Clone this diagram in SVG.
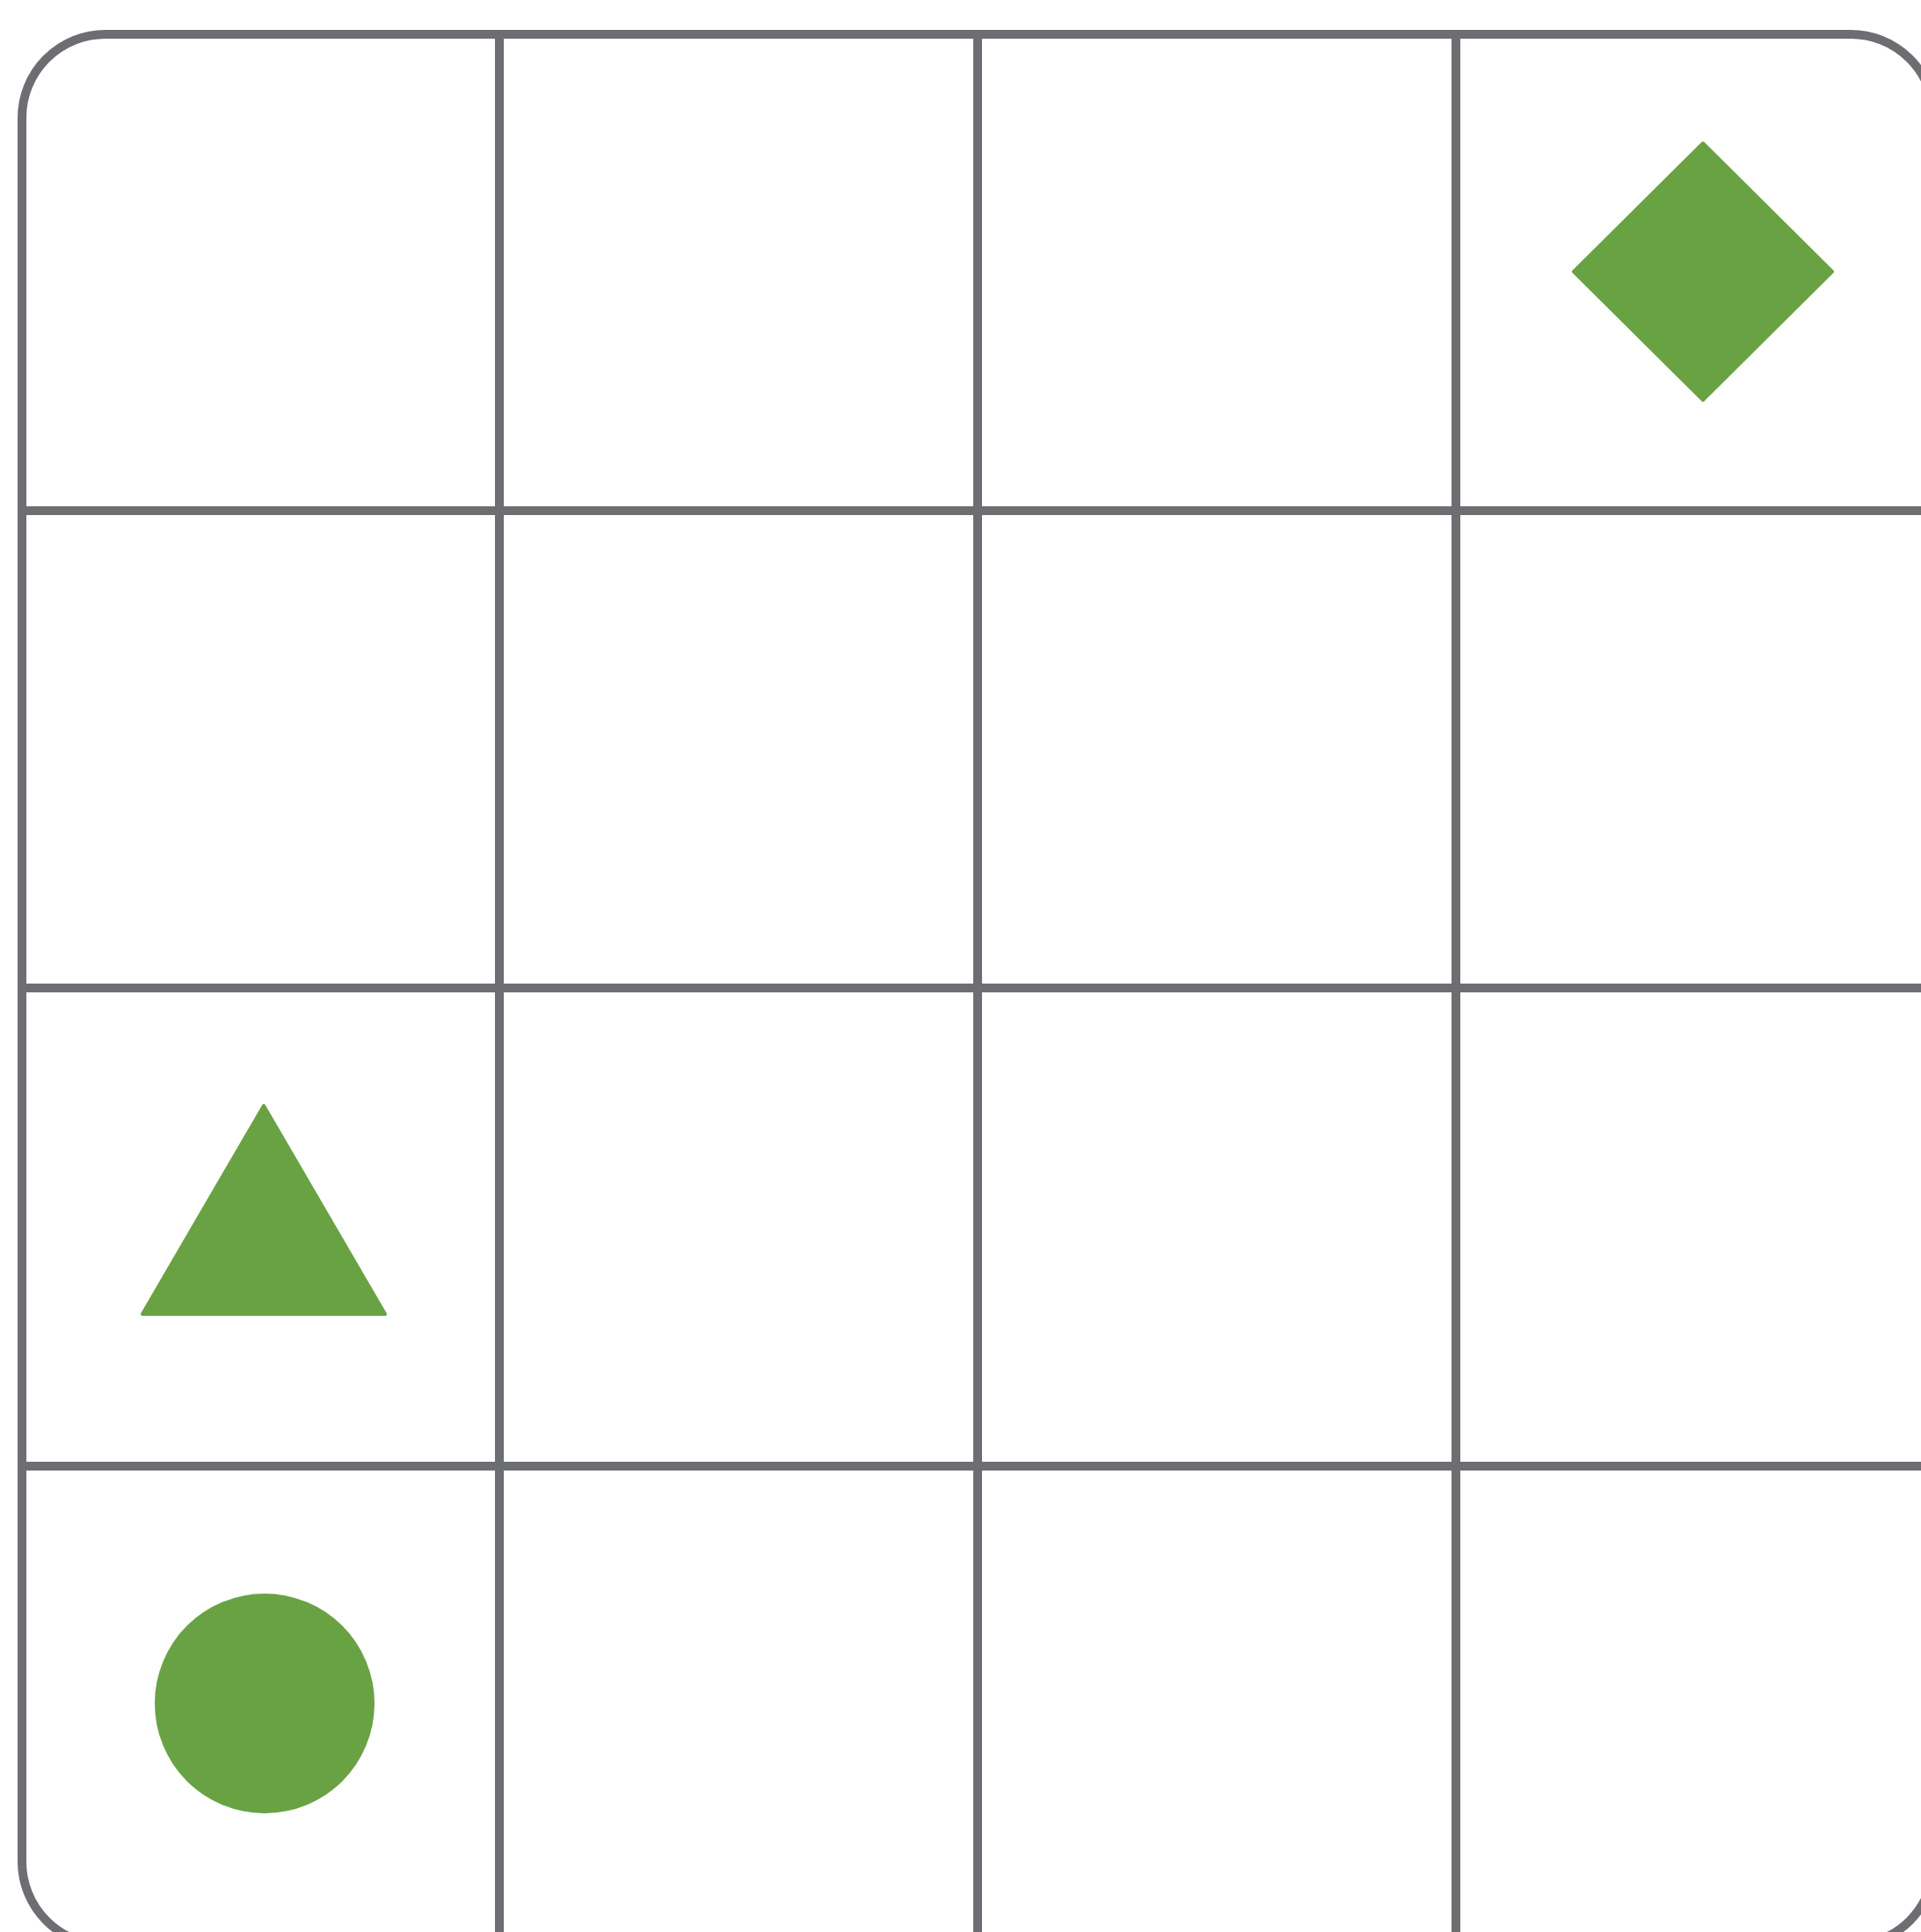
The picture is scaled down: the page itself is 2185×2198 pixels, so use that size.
<svg xmlns="http://www.w3.org/2000/svg" width="2185" height="2198" viewBox="0 0 2185 2198">
<style>
.grid{fill:none;stroke:#6d6e72;stroke-width:10}
.shape{fill:#69a243;stroke:#69a243;stroke-width:4;stroke-linejoin:round}
</style>
<rect width="2185" height="2198" fill="#ffffff"/>
<g id="grid">
<rect class="grid" x="25" y="39" width="2175" height="2174" rx="95" ry="95"/>
<line class="grid" x1="568" y1="39" x2="568" y2="2213"/>
<line class="grid" x1="1112" y1="39" x2="1112" y2="2213"/>
<line class="grid" x1="1656" y1="39" x2="1656" y2="2213"/>
<line class="grid" x1="25" y1="581" x2="2200" y2="581"/>
<line class="grid" x1="25" y1="1124" x2="2200" y2="1124"/>
<line class="grid" x1="25" y1="1668" x2="2200" y2="1668"/>
</g>
<g id="diamond">
<polygon class="shape" points="1937,163 2084,309 1937,455 1790,309"/>
</g>
<g id="triangle">
<polygon class="shape" points="300,1258 438,1495 162,1495"/>
</g>
<g id="circle">
<circle cx="301" cy="1938" r="125" fill="#69a243"/>
</g>
</svg>
